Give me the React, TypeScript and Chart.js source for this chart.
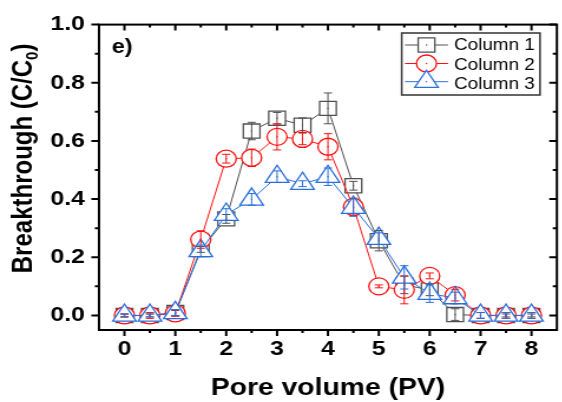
import React, { useEffect, useRef } from 'react';
import { Chart, registerables } from 'chart.js';

Chart.register(...registerables);

// ---- data ----
const pv = [0, 0.5, 1, 1.5, 2, 2.5, 3, 3.5, 4, 4.5, 5, 5.5, 6, 6.5, 7, 7.5, 8];
const col1 = [0, 0, 0.01, 0.227, 0.332, 0.634, 0.678, 0.654, 0.712, 0.446, 0.257, 0.105, 0.088, 0.003, 0, 0, 0];
const col1Err = [0.005, 0.005, 0.01, 0.01, 0.015, 0.03, 0.02, 0.025, 0.053, 0.015, 0.035, 0.03, 0.02, 0.02, 0.01, 0.005, 0.005];
const col2 = [0, 0, 0.007, 0.261, 0.539, 0.542, 0.614, 0.607, 0.58, 0.373, 0.1, 0.088, 0.136, 0.07, 0, 0, 0];
const col2Err = [0.005, 0.01, 0.01, 0.03, 0.015, 0.03, 0.045, 0.02, 0.045, 0.03, 0.005, 0.048, 0.01, 0.02, 0.01, 0.01, 0.01];
const col3 = [0, 0, 0.009, 0.222, 0.347, 0.399, 0.477, 0.453, 0.477, 0.371, 0.264, 0.131, 0.075, 0.06, 0, 0, 0];
const col3Err = [0.005, 0.005, 0.01, 0.02, 0.02, 0.02, 0.02, 0.01, 0.03, 0.03, 0.02, 0.04, 0.03, 0.02, 0.01, 0.01, 0.01];

const seriesLabels = ['Column 1', 'Column 2', 'Column 3'];
const xTicks = [0, 1, 2, 3, 4, 5, 6, 7, 8];
const xTickLabels = ['0', '1', '2', '3', '4', '5', '6', '7', '8'];
const xMinor = [0.5, 1.5, 2.5, 3.5, 4.5, 5.5, 6.5, 7.5];
const yTicks = [0, 0.2, 0.4, 0.6, 0.8, 1.0];
const yTickLabels = ['0.0', '0.2', '0.4', '0.6', '0.8', '1.0'];
const yMinor = [0.1, 0.3, 0.5, 0.7, 0.9];
const xTitle = 'Pore volume (PV)';
const yTitleMain = 'Breakthrough (C/C';
const yTitleSub = '0';
const yTitleEnd = ')';
const panelLabel = 'e)';

// ---- layout (internal canvas px; canvas is stretched horizontally) ----
const INT_W = 485;
const INT_H = 402;
const DISP_W = 572;
const S = DISP_W / INT_W;
const FONT = '"Liberation Sans", Arial, sans-serif';

const colors = ['#505050', '#ff1010', '#2a70dc'];
const styles = ['rect', 'circle', 'triangle'];
const radii = [10, 8.5, 11.5];
const values = [col1, col2, col3];
const errors = [col1Err, col2Err, col3Err];

function drawMarker(ctx: CanvasRenderingContext2D, style: string, x: number, y: number, r: number, color: string) {
  ctx.save();
  ctx.strokeStyle = color;
  ctx.fillStyle = '#fff';
  ctx.lineWidth = 1.3;
  ctx.beginPath();
  if (style === 'rect') {
    const s = Math.SQRT1_2 * r;
    ctx.rect(x - s, y - s, 2 * s, 2 * s);
  } else if (style === 'circle') {
    ctx.arc(x, y, r, 0, Math.PI * 2);
  } else {
    ctx.moveTo(x, y - r);
    ctx.lineTo(x + Math.sin((2 * Math.PI) / 3) * r, y - Math.cos((2 * Math.PI) / 3) * r);
    ctx.lineTo(x + Math.sin((4 * Math.PI) / 3) * r, y - Math.cos((4 * Math.PI) / 3) * r);
    ctx.closePath();
  }
  ctx.fill();
  ctx.stroke();
  ctx.fillStyle = color;
  ctx.fillRect(x - 0.6, y - 0.6, 1.2, 1.2);
  ctx.restore();
}

const decorPlugin = {
  id: 'decor',
  afterDatasetsDraw(chart: any) {
    const ctx: CanvasRenderingContext2D = chart.ctx;
    const yS = chart.scales.y;
    ctx.save();
    for (let i = 0; i < 3; i++) {
      const meta = chart.getDatasetMeta(i);
      ctx.strokeStyle = colors[i];
      ctx.fillStyle = colors[i];
      ctx.lineWidth = 1;
      meta.data.forEach((pt: any, j: number) => {
        const v = values[i][j];
        const e = errors[i][j];
        const x = pt.x;
        const yt = yS.getPixelForValue(v + e);
        const yb = yS.getPixelForValue(v - e);
        ctx.beginPath();
        ctx.moveTo(x, yt);
        ctx.lineTo(x, yb);
        ctx.moveTo(x - 3.5, yt);
        ctx.lineTo(x + 3.5, yt);
        ctx.moveTo(x - 3.5, yb);
        ctx.lineTo(x + 3.5, yb);
        ctx.stroke();
        ctx.fillRect(x - 0.6, pt.y - 0.6, 1.2, 1.2);
      });
    }
    ctx.restore();
  },
  afterDraw(chart: any) {
    const ctx: CanvasRenderingContext2D = chart.ctx;
    const { left, right, top, bottom } = chart.chartArea;
    const xS = chart.scales.x;
    const yS = chart.scales.y;
    ctx.save();
    ctx.strokeStyle = '#000';
    ctx.lineWidth = 2;
    ctx.strokeRect(left, top, right - left, bottom - top);
    ctx.beginPath();
    yTicks.forEach((v) => {
      const p = yS.getPixelForValue(v);
      ctx.moveTo(left - 6.5, p);
      ctx.lineTo(left, p);
      ctx.moveTo(right - 6.5, p);
      ctx.lineTo(right, p);
    });
    yMinor.forEach((v) => {
      const p = yS.getPixelForValue(v);
      ctx.moveTo(left - 3.5, p);
      ctx.lineTo(left, p);
      ctx.moveTo(right - 3.5, p);
      ctx.lineTo(right, p);
    });
    xTicks.forEach((v) => {
      const p = xS.getPixelForValue(v);
      ctx.moveTo(p, bottom);
      ctx.lineTo(p, bottom + 6);
      ctx.moveTo(p, top);
      ctx.lineTo(p, top + 6);
    });
    xMinor.forEach((v) => {
      const p = xS.getPixelForValue(v);
      ctx.moveTo(p, bottom);
      ctx.lineTo(p, bottom + 3);
      ctx.moveTo(p, top);
      ctx.lineTo(p, top + 3);
    });
    ctx.stroke();

    // x title
    ctx.fillStyle = '#000';
    ctx.font = `bold 24px ${FONT}`;
    ctx.textAlign = 'center';
    ctx.textBaseline = 'alphabetic';
    ctx.fillText(xTitle, (left + right) / 2, 395);

    // y title with subscript
    ctx.save();
    ctx.translate(27.1, 158.4);
    ctx.rotate(-Math.PI / 2);
    ctx.textAlign = 'left';
    ctx.font = `bold 24px ${FONT}`;
    const w1 = ctx.measureText(yTitleMain).width;
    const w3 = ctx.measureText(yTitleEnd).width;
    ctx.font = `bold 15px ${FONT}`;
    const w2 = ctx.measureText(yTitleSub).width;
    const start = -(w1 + w2 + w3) / 2;
    ctx.font = `bold 24px ${FONT}`;
    ctx.fillText(yTitleMain, start, 0);
    ctx.font = `bold 15px ${FONT}`;
    ctx.fillText(yTitleSub, start + w1, 5);
    ctx.font = `bold 24px ${FONT}`;
    ctx.fillText(yTitleEnd, start + w1 + w2, 0);
    ctx.restore();

    // panel label
    ctx.font = `bold 20px ${FONT}`;
    ctx.textAlign = 'left';
    ctx.fillText(panelLabel, 94.7, 53);

    // legend
    const lx0 = 401.7 / S;
    const lx1 = 540 / S;
    ctx.strokeStyle = '#333';
    ctx.lineWidth = 1.5;
    ctx.strokeRect(lx0, 33, lx1 - lx0, 62);
    const rowY = [45, 63.5, 81.7];
    const baseY = [50, 69.5, 88.5];
    const lineA = 405 / S;
    const lineB = 448 / S;
    const mx = (lineA + lineB) / 2;
    for (let i = 0; i < 3; i++) {
      ctx.strokeStyle = colors[i];
      ctx.lineWidth = 1;
      ctx.beginPath();
      ctx.moveTo(lineA, rowY[i]);
      ctx.lineTo(lineB, rowY[i]);
      ctx.stroke();
      drawMarker(ctx, styles[i], mx, rowY[i], radii[i], colors[i]);
      ctx.fillStyle = '#000';
      ctx.font = `16px ${FONT}`;
      ctx.textAlign = 'left';
      ctx.fillText(seriesLabels[i], 454 / S, baseY[i]);
    }
    ctx.restore();
  },
};

export default function App() {
  const ref = useRef<HTMLCanvasElement | null>(null);
  useEffect(() => {
    if (!ref.current) return;
    const datasets = [0, 1, 2].map((i) => ({
      label: seriesLabels[i],
      data: pv.map((x, j) => ({ x, y: values[i][j] })),
      borderColor: colors[i],
      backgroundColor: '#ffffff',
      borderWidth: 1,
      pointStyle: styles[i] as any,
      pointRadius: radii[i],
      pointHoverRadius: radii[i],
      pointBorderWidth: 1.3,
      pointBorderColor: colors[i],
      pointBackgroundColor: '#ffffff',
      tension: 0,
      order: 2 - i,
    }));
    const chart = new Chart(ref.current, {
      type: 'line',
      data: { datasets },
      options: {
        responsive: false,
        animation: false,
        devicePixelRatio: 1,
        layout: { padding: { top: 20, right: INT_W - 567 / S, left: 0, bottom: 0 } },
        plugins: { legend: { display: false }, tooltip: { enabled: false } },
        scales: {
          x: {
            type: 'linear',
            min: -0.5,
            max: 8.5,
            afterBuildTicks: (s: any) => {
              s.ticks = xTicks.map((v) => ({ value: v }));
            },
            afterFit: (s: any) => {
              s.height = 72;
            },
            ticks: {
              autoSkip: false,
              maxRotation: 0,
              padding: 7,
              color: '#000',
              font: { family: FONT, size: 21, weight: 'bold' },
              callback: (_v: any, i: number) => xTickLabels[i],
            },
            grid: { display: false, drawTicks: false },
            border: { display: false },
          },
          y: {
            type: 'linear',
            min: -0.05,
            max: 1.0,
            afterBuildTicks: (s: any) => {
              s.ticks = yTicks.map((v) => ({ value: v }));
            },
            afterFit: (s: any) => {
              s.width = 99 / S;
            },
            ticks: {
              autoSkip: false,
              padding: 12,
              color: '#000',
              font: { family: FONT, size: 21, weight: 'bold' },
              callback: (_v: any, i: number) => yTickLabels[i],
            },
            grid: { display: false, drawTicks: false },
            border: { display: false },
          },
        },
      },
      plugins: [decorPlugin],
    });
    return () => chart.destroy();
  }, []);
  return (
    <div style={{ position: 'fixed', left: 0, top: 0, width: 562, height: 402, overflow: 'hidden', background: '#fff' }}>
      <canvas ref={ref} width={INT_W} height={INT_H} style={{ width: `${DISP_W}px`, height: `${INT_H}px`, display: 'block' }} />
    </div>
  );
}
